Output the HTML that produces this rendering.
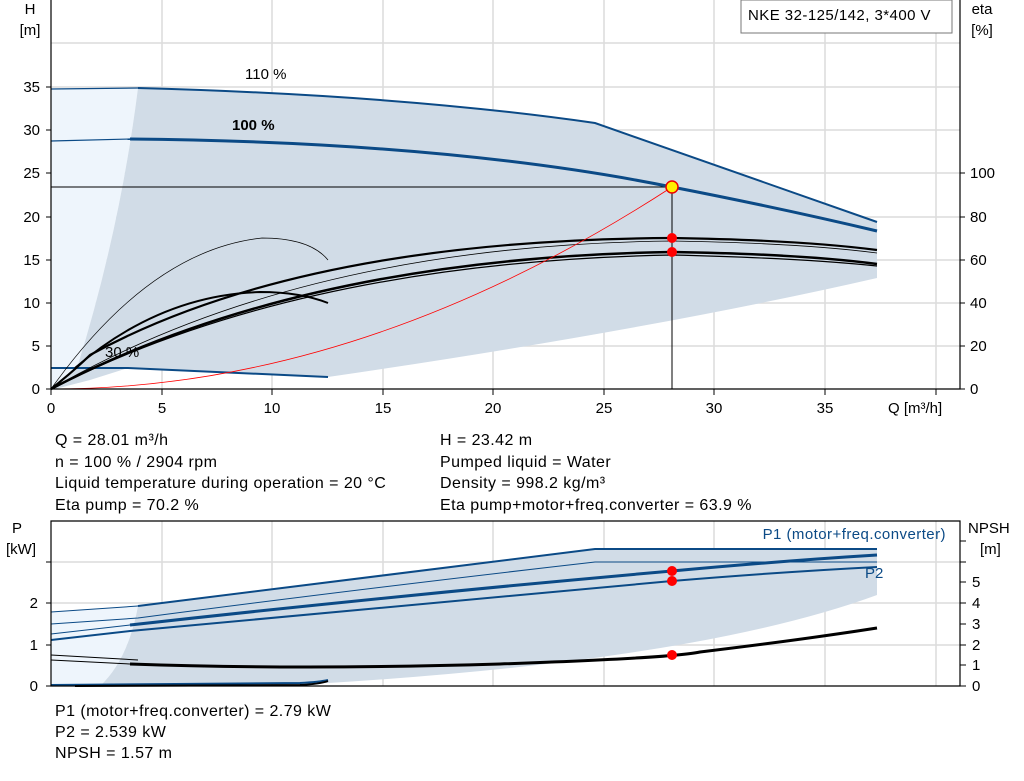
<!DOCTYPE html>
<html><head><meta charset="utf-8"><style>
body{margin:0;background:#fff;}
svg{display:block;font-family:"Liberation Sans",Arial,sans-serif;}
.t{font-size:16px;letter-spacing:0.45px;}
</style></head><body>
<svg width="1024" height="781" viewBox="0 0 1024 781">
<!-- top chart -->
<g stroke="#dcdcdc" stroke-width="1.5">
<line x1="162" y1="0" x2="162" y2="389"/><line x1="272" y1="0" x2="272" y2="389"/><line x1="383" y1="0" x2="383" y2="389"/><line x1="493" y1="0" x2="493" y2="389"/><line x1="604" y1="0" x2="604" y2="389"/><line x1="714" y1="0" x2="714" y2="389"/><line x1="825" y1="0" x2="825" y2="389"/><line x1="936" y1="0" x2="936" y2="389"/>
<line x1="51" y1="346" x2="960" y2="346"/><line x1="51" y1="303" x2="960" y2="303"/><line x1="51" y1="260" x2="960" y2="260"/><line x1="51" y1="217" x2="960" y2="217"/><line x1="51" y1="173" x2="960" y2="173"/><line x1="51" y1="130" x2="960" y2="130"/><line x1="51" y1="87" x2="960" y2="87"/><line x1="51" y1="43" x2="960" y2="43"/>
</g>
<path d="M51,89 L138,88 Q120,230 77,368 L55,389 L51,389 Z" fill="#eef5fc"/>
<path d="M138,88 Q400,95 595,123 L877,222 L877,278 Q650,330 328,377 L128,368 L77,368 Q120,230 138,88 Z" fill="#d1dce7"/>
<path d="M77,368 L128,368 L90,380 L55,389 Z" fill="#d1dce7"/>
<line x1="51" y1="187" x2="672" y2="187" stroke="#000" stroke-width="1"/>
<line x1="672" y1="187" x2="672" y2="389" stroke="#000" stroke-width="1"/>
<!-- H curves -->
<path d="M51,89 L138,88" stroke="#0b4a86" stroke-width="1.2" fill="none"/>
<path d="M138,88 Q400,95 595,123 L877,222" stroke="#0b4a86" stroke-width="2" fill="none"/>
<path d="M51,141 L130,139" stroke="#0b4a86" stroke-width="1.2" fill="none"/>
<path d="M130,139 Q450,142 672,187 Q780,208 877,231" stroke="#0b4a86" stroke-width="3" fill="none"/>
<path d="M51,368 L128,368 L328,377" stroke="#0b4a86" stroke-width="2" fill="none"/>
<!-- eta curves -->
<path d="M51,389 Q150,250 262,238 Q310,238 328,260" stroke="#000" stroke-width="0.7" fill="none"/>
<path d="M75,368 Q160,295 260,292 Q300,292 328,303" stroke="#000" stroke-width="2" fill="none"/>
<path d="M51,389 Q75,370 90,355 Q300,240 672,238 Q800,240 877,250" stroke="#000" stroke-width="2.2" fill="none"/>
<path d="M51,389 Q300,245 672,241 Q800,243 877,253" stroke="#000" stroke-width="0.8" fill="none"/>
<path d="M51,389 Q300,258 672,252 Q800,254 877,264" stroke="#000" stroke-width="2.5" fill="none"/>
<path d="M51,389 Q300,262 672,255 Q800,258 877,266" stroke="#000" stroke-width="1.2" fill="none"/>
<!-- system curve -->
<path d="M51,389 Q361,389 672,187" stroke="#f00" stroke-width="0.8" fill="none"/>
<circle cx="672" cy="238" r="5" fill="#f00"/><circle cx="672" cy="252" r="5" fill="#f00"/>
<circle cx="672" cy="187" r="6" fill="#ffee00" stroke="#e00" stroke-width="1.5"/>
<g stroke="#000" stroke-width="1.2" fill="none"><path d="M51,0 V389 H960 V0"/></g>
<g stroke="#000" stroke-width="1">
<line x1="46" y1="389" x2="51" y2="389"/><line x1="46" y1="346" x2="51" y2="346"/><line x1="46" y1="303" x2="51" y2="303"/><line x1="46" y1="260" x2="51" y2="260"/><line x1="46" y1="217" x2="51" y2="217"/><line x1="46" y1="173" x2="51" y2="173"/><line x1="46" y1="130" x2="51" y2="130"/><line x1="46" y1="87" x2="51" y2="87"/>
<line x1="51" y1="389" x2="51" y2="395"/><line x1="162" y1="389" x2="162" y2="395"/><line x1="272" y1="389" x2="272" y2="395"/><line x1="383" y1="389" x2="383" y2="395"/><line x1="493" y1="389" x2="493" y2="395"/><line x1="604" y1="389" x2="604" y2="395"/><line x1="714" y1="389" x2="714" y2="395"/><line x1="825" y1="389" x2="825" y2="395"/><line x1="936" y1="389" x2="936" y2="395"/>
<line x1="960" y1="389" x2="965" y2="389"/><line x1="960" y1="346" x2="965" y2="346"/><line x1="960" y1="303" x2="965" y2="303"/><line x1="960" y1="260" x2="965" y2="260"/><line x1="960" y1="217" x2="965" y2="217"/><line x1="960" y1="173" x2="965" y2="173"/>
</g>
<g font-size="15" fill="#000">
<text x="30" y="14" text-anchor="middle">H</text><text x="30" y="35" text-anchor="middle">[m]</text>
<text x="982" y="14" text-anchor="middle">eta</text><text x="982" y="35" text-anchor="middle">[%]</text>
<g text-anchor="end"><text x="40" y="394">0</text><text x="40" y="351">5</text><text x="40" y="308">10</text><text x="40" y="265">15</text><text x="40" y="222">20</text><text x="40" y="178">25</text><text x="40" y="135">30</text><text x="40" y="92">35</text></g>
<g><text x="970" y="394">0</text><text x="970" y="351">20</text><text x="970" y="308">40</text><text x="970" y="265">60</text><text x="970" y="222">80</text><text x="970" y="178">100</text></g>
<g text-anchor="middle"><text x="51" y="413">0</text><text x="162" y="413">5</text><text x="272" y="413">10</text><text x="383" y="413">15</text><text x="493" y="413">20</text><text x="604" y="413">25</text><text x="714" y="413">30</text><text x="825" y="413">35</text></g>
<text x="888" y="413">Q [m³/h]</text>
<text x="245" y="79">110 %</text><text x="232" y="130" font-weight="bold">100 %</text><text x="105" y="357">30 %</text>
</g>
<rect x="741" y="0" width="211" height="33" fill="#fff" stroke="#777"/>
<text x="748" y="20" class="t" style="font-size:15px">NKE 32-125/142, 3*400 V</text>
<g class="t">
<text x="55" y="445">Q = 28.01 m³/h</text><text x="55" y="467">n = 100 % / 2904 rpm</text><text x="55" y="488">Liquid temperature during operation = 20 °C</text><text x="55" y="510">Eta pump = 70.2 %</text>
<text x="440" y="445">H = 23.42 m</text><text x="440" y="467">Pumped liquid = Water</text><text x="440" y="488">Density = 998.2 kg/m³</text><text x="440" y="510">Eta pump+motor+freq.converter = 63.9 %</text>
</g>
<!-- bottom chart -->
<g stroke="#dcdcdc" stroke-width="1.5">
<line x1="162" y1="521" x2="162" y2="686"/><line x1="272" y1="521" x2="272" y2="686"/><line x1="383" y1="521" x2="383" y2="686"/><line x1="493" y1="521" x2="493" y2="686"/><line x1="604" y1="521" x2="604" y2="686"/><line x1="714" y1="521" x2="714" y2="686"/><line x1="825" y1="521" x2="825" y2="686"/><line x1="936" y1="521" x2="936" y2="686"/>
<line x1="51" y1="645" x2="960" y2="645"/><line x1="51" y1="603" x2="960" y2="603"/><line x1="51" y1="562" x2="960" y2="562"/>
</g>
<path d="M51,612 L138,606 Q128,660 100,686 L51,686 Z" fill="#eef5fc"/>
<path d="M138,606 Q350,580 595,549 L877,549 L877,595 Q700,660 328,683 L100,686 Q128,660 138,606 Z" fill="#d1dce7"/>
<path d="M51,612 L138,606" stroke="#0b4a86" stroke-width="1" fill="none"/>
<path d="M138,606 Q350,580 595,549 L877,549" stroke="#0b4a86" stroke-width="2" fill="none"/>
<path d="M51,624 L138,618 Q350,590 595,562 L877,562" stroke="#0b4a86" stroke-width="1" fill="none"/>
<path d="M51,634 L130,625" stroke="#0b4a86" stroke-width="1" fill="none"/>
<path d="M130,625 Q400,595 672,571 Q780,561 877,555" stroke="#0b4a86" stroke-width="3" fill="none"/>
<path d="M51,640 L130,631 Q400,605 672,581 Q780,572 877,567" stroke="#0b4a86" stroke-width="2" fill="none"/>
<path d="M51,655 L138,660" stroke="#000" stroke-width="1" fill="none"/>
<path d="M51,660 L130,664" stroke="#000" stroke-width="1" fill="none"/>
<path d="M130,664 Q300,670 500,664 Q672,658 700,652 Q800,640 877,628" stroke="#000" stroke-width="3" fill="none"/>
<path d="M51,685 L300,683 Q320,682 328,680" stroke="#0b4a86" stroke-width="2" fill="none"/>
<path d="M75,686 L300,685 Q320,684 328,681" stroke="#000" stroke-width="2" fill="none"/>
<circle cx="672" cy="571" r="5" fill="#f00"/><circle cx="672" cy="581" r="5" fill="#f00"/><circle cx="672" cy="655" r="5" fill="#f00"/>
<path d="M51,521 H960 V686 H51 Z" fill="none" stroke="#000" stroke-width="1.2"/>
<g stroke="#000" stroke-width="1">
<line x1="46" y1="686" x2="51" y2="686"/><line x1="46" y1="645" x2="51" y2="645"/><line x1="46" y1="603" x2="51" y2="603"/><line x1="46" y1="562" x2="51" y2="562"/>
<line x1="960" y1="686" x2="966" y2="686"/><line x1="960" y1="665" x2="966" y2="665"/><line x1="960" y1="645" x2="966" y2="645"/><line x1="960" y1="624" x2="966" y2="624"/><line x1="960" y1="603" x2="966" y2="603"/><line x1="960" y1="582" x2="966" y2="582"/><line x1="960" y1="562" x2="966" y2="562"/><line x1="960" y1="541" x2="966" y2="541"/>
</g>
<g font-size="15">
<text x="12" y="533">P</text><text x="6" y="554">[kW]</text>
<text x="968" y="533">NPSH</text><text x="980" y="554">[m]</text>
<g text-anchor="end"><text x="38" y="691">0</text><text x="38" y="650">1</text><text x="38" y="608">2</text></g>
<g><text x="972" y="691">0</text><text x="972" y="670">1</text><text x="972" y="650">2</text><text x="972" y="629">3</text><text x="972" y="608">4</text><text x="972" y="587">5</text></g>
<text x="946" y="539" text-anchor="end" fill="#0b4a86" class="t" style="font-size:15px">P1 (motor+freq.converter)</text>
<text x="865" y="578" fill="#0b4a86">P2</text>
</g>
<g class="t">
<text x="55" y="716">P1 (motor+freq.converter) = 2.79 kW</text><text x="55" y="737">P2 = 2.539 kW</text><text x="55" y="758">NPSH = 1.57 m</text>
</g>
</svg>
</body></html>
